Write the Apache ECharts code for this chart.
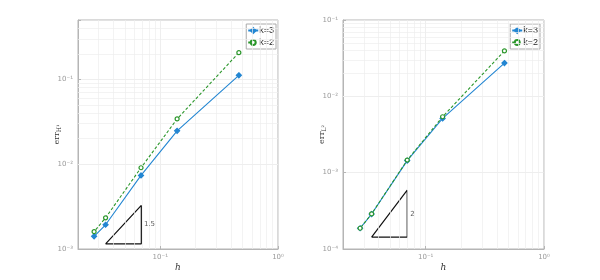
<!DOCTYPE html>
<html><head><meta charset="utf-8">
<script src="https://cdn.jsdelivr.net/npm/echarts@6/dist/echarts.min.js"></script>
<style>html,body{margin:0;padding:0;background:#fff}#c{width:600px;height:280px}</style>
</head><body><div id="c"></div>
<script>
// ---- data ----
const seriesNames = ['k=3', 'k=2'];
const hLeft = [0.465, 0.139, 0.0686, 0.0343, 0.0274];
const errH1_k3 = [0.1115, 0.0247, 0.00737, 0.00193, 0.00141];
const errH1_k2 = [0.206, 0.0341, 0.00907, 0.00233, 0.0016];
const hRight = [0.463, 0.139, 0.0698, 0.0349, 0.0279];
const errL2_k3 = [0.0273, 0.00514, 0.00144, 0.000287, 0.000187];
const errL2_k2 = [0.0394, 0.0054, 0.00146, 0.000288, 0.000187];
const triLeftX = [0.0343, 0.069, 0.069, 0.0343];
const triLeftY = [0.00115, 0.00115, 0.00326, 0.00115];
const triLeftLabel = {x: 0.081, y: 0.00198, text: '1.5'};
const triRightX = [0.0349, 0.0698, 0.0698, 0.0349];
const triRightY = [0.000143, 0.000143, 0.000589, 0.000143];
const triRightLabel = {x: 0.0774, y: 0.000287, text: '2'};
const xMinor = [0.03,0.04,0.05,0.06,0.07,0.08,0.09,0.2,0.3,0.4,0.5,0.6,0.7,0.8,0.9];
const yMinorLeft = [0.002,0.003,0.004,0.005,0.006,0.007,0.008,0.009,0.02,0.03,0.04,0.05,0.06,0.07,0.08,0.09,0.2,0.3,0.4];
const yMinorRight = [0.0002,0.0003,0.0004,0.0005,0.0006,0.0007,0.0008,0.0009,0.002,0.003,0.004,0.005,0.006,0.007,0.008,0.009,0.02,0.03,0.04,0.05,0.06,0.07,0.08,0.09];
const supMap = {'-':'⁻','0':'⁰','1':'¹','2':'²','3':'³','4':'⁴','5':'⁵','6':'⁶','7':'⁷','8':'⁸','9':'⁹'};

const zip = (a, b) => a.map((v, i) => [v, b[i]]);
const BLUE = '#2386d2', GREEN = '#2a962a';
function powLabel(v) {
  const e = Math.log10(v);
  if (Math.abs(e - Math.round(e)) > 1e-6) return '';
  const s = String(Math.round(e)).split('').map(c => supMap[c]).join('');
  return '10' + s;
}
function xAxis(gi) {
  return {
    type: 'log', logBase: 10, gridIndex: gi, min: 0.02, max: 1, splitNumber: 2,
    name: 'h', nameLocation: 'middle', nameGap: 14, nameMoveOverlap: false,
    nameTextStyle: {fontFamily: 'DejaVu Serif', fontStyle: 'italic', fontSize: 9, color: '#333'},
    axisLine: {show: true, lineStyle: {color: '#b5b5b5', width: 1}},
    axisTick: {show: true, inside: true, length: 3, lineStyle: {color: '#b5b5b5'}},
    axisLabel: {formatter: powLabel, color: '#9a9a9a', fontSize: 7, fontFamily: 'DejaVu Sans', margin: 5},
    splitLine: {show: true, lineStyle: {color: '#e6e6e6', width: 0.7}}
  };
}
function yAxis(gi, min, max, nameRich) {
  return {
    type: 'log', logBase: 10, gridIndex: gi, min: min, max: max, interval: 1,
    name: nameRich, nameLocation: 'middle', nameGap: 16, nameRotate: 90, nameMoveOverlap: false,
    nameTextStyle: {fontFamily: 'DejaVu Serif', fontSize: 8, color: '#333',
      rich: {a: {fontFamily: 'DejaVu Serif', fontSize: 8, color: '#333'},
             b: {fontFamily: 'DejaVu Serif', fontSize: 6, color: '#333', padding: [4, 0, 0, 0]}}},
    axisLine: {show: true, lineStyle: {color: '#b5b5b5', width: 1}},
    axisTick: {show: true, inside: true, length: 3, lineStyle: {color: '#b5b5b5'}},
    axisLabel: {formatter: powLabel, color: '#9a9a9a', fontSize: 7, fontFamily: 'DejaVu Sans', margin: 5},
    splitLine: {show: true, lineStyle: {color: '#e6e6e6', width: 0.7}}
  };
}
function dataSeries(gi, name, x, y, color, sym, dashed) {
  return {
    type: 'line', name: name, xAxisIndex: gi, yAxisIndex: gi, data: zip(x, y), z: 5,
    symbol: sym, symbolSize: sym === 'diamond' ? 5 : 4, showSymbol: true,
    itemStyle: {color: sym === 'circle' ? '#fff' : color, borderColor: color, borderWidth: 1.2},
    lineStyle: {color: color, width: 1.1, type: dashed ? [3, 2] : 'solid'},
    animation: false
  };
}
function gridHelper(gi, yMinor) {
  return {
    type: 'line', xAxisIndex: gi, yAxisIndex: gi, data: [], z: 1, silent: true, animation: false,
    markLine: {
      silent: true, symbol: 'none', animation: false, label: {show: false},
      lineStyle: {color: '#eeeeee', width: 0.7, type: 'solid'},
      data: xMinor.map(v => ({xAxis: v})).concat(yMinor.map(v => ({yAxis: v})))
    }
  };
}
function triangle(gi, xs, ys, lab) {
  return [{
    type: 'line', xAxisIndex: gi, yAxisIndex: gi, data: zip(xs, ys), z: 4, symbol: 'none',
    lineStyle: {color: '#111', width: 1.2}, silent: true, animation: false
  }, {
    type: 'scatter', xAxisIndex: gi, yAxisIndex: gi, data: [[lab.x, lab.y]], symbolSize: 1, z: 6,
    itemStyle: {color: 'rgba(0,0,0,0)'}, silent: true, animation: false,
    label: {show: true, position: 'inside', formatter: lab.text, color: '#333', fontSize: 7, fontFamily: 'DejaVu Sans'},
    labelLayout: {hideOverlap: false}
  }];
}
function legend(right) {
  return {
    data: seriesNames, right: right, top: 24, orient: 'vertical',
    itemWidth: 10, itemHeight: 6, itemGap: 3, padding: [2, 2, 2, 1],
    backgroundColor: '#fff', borderColor: '#aaaaaa', borderWidth: 1, borderRadius: 0,
    textStyle: {fontSize: 9, color: '#222', fontFamily: 'Liberation Sans', padding: [0, 0, 0, -4]},
    selectedMode: false
  };
}
const chart = echarts.init(document.getElementById('c'), null, {renderer: 'canvas'});
chart.setOption({
  animation: false,
  grid: [
    {left: 78, top: 20, width: 200, height: 229, show: true, borderColor: '#b5b5b5', borderWidth: 1},
    {left: 343, top: 20, width: 201, height: 229, show: true, borderColor: '#b5b5b5', borderWidth: 1}
  ],
  legend: [legend(324), legend(60)],
  xAxis: [xAxis(0), xAxis(1)],
  yAxis: [
    yAxis(0, 0.001, 0.5, '{a|err}{b|H¹}'),
    yAxis(1, 0.0001, 0.1, '{a|err}{b|L²}')
  ],
  series: [
    gridHelper(0, yMinorLeft),
    gridHelper(1, yMinorRight),
    dataSeries(0, seriesNames[0], hLeft, errH1_k3, BLUE, 'diamond', false),
    dataSeries(0, seriesNames[1], hLeft, errH1_k2, GREEN, 'circle', true),
    dataSeries(1, seriesNames[0], hRight, errL2_k3, BLUE, 'diamond', false),
    dataSeries(1, seriesNames[1], hRight, errL2_k2, GREEN, 'circle', true),
    ...triangle(0, triLeftX, triLeftY, triLeftLabel),
    ...triangle(1, triRightX, triRightY, triRightLabel)
  ]
});
</script></body></html>
